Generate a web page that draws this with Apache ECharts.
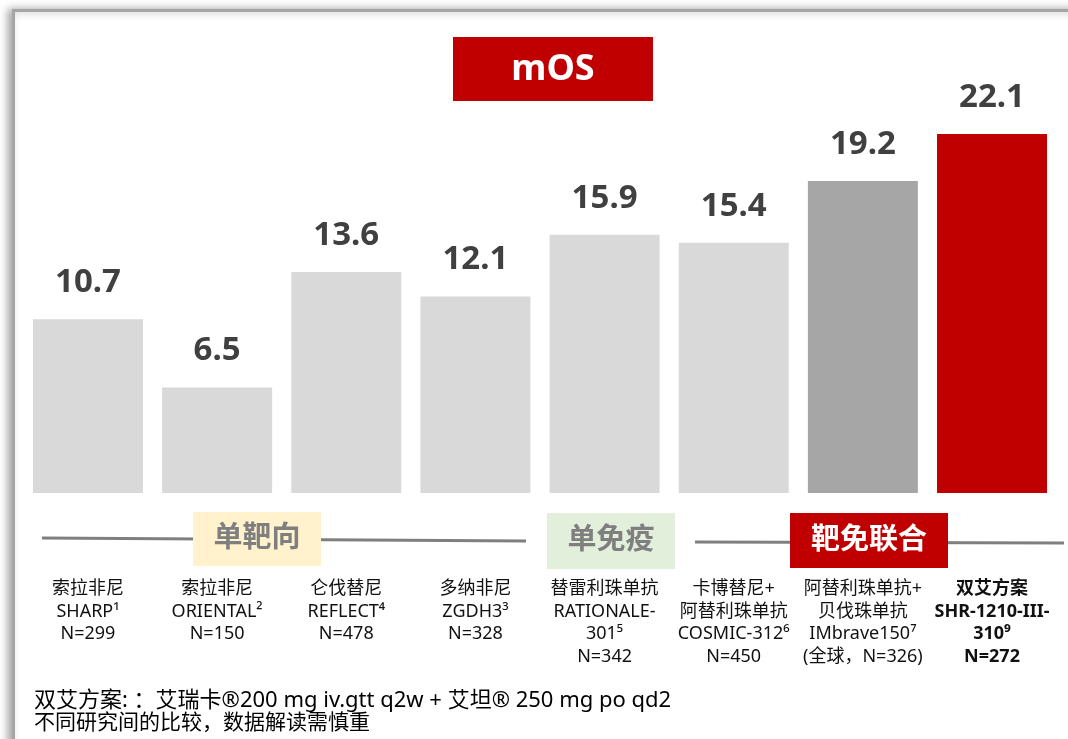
<!DOCTYPE html>
<html>
<head>
<meta charset="utf-8">
<script src="https://cdn.jsdelivr.net/npm/echarts@6/dist/echarts.min.js"></script>
<style>
  html, body { margin: 0; padding: 0; background: #fff; }
  #main { width: 1068px; height: 739px; }
</style>
</head>
<body>
<div id="main"></div>
<script>
var chartDom = document.getElementById('main');
var myChart = echarts.init(chartDom);
var option;

// categories (trial names), superscripts are reference numbers
var categories = [
    '索拉非尼\nSHARP¹\nN=299',
    '索拉非尼\nORIENTAL²\nN=150',
    '仑伐替尼\nREFLECT⁴\nN=478',
    '多纳非尼\nZGDH3³\nN=328',
    '替雷利珠单抗\nRATIONALE-\n301⁵\nN=342',
    '卡博替尼+\n阿替利珠单抗\nCOSMIC-312⁶\nN=450',
    '阿替利珠单抗+\n贝伐珠单抗\nIMbrave150⁷\n(全球，N=326)',
    '双艾方案\nSHR-1210-III-\n310⁹\nN=272'
];
// median OS, months
var mosValues = [10.7, 6.5, 13.6, 12.1, 15.9, 15.4, 19.2, 22.1];
var barColors = ['#D9D9D9', '#D9D9D9', '#D9D9D9', '#D9D9D9', '#D9D9D9', '#D9D9D9', '#A6A6A6', '#C00000'];

var fontFam = "'Noto Sans', 'Noto Sans CJK SC', sans-serif";

var xData = categories.map(function (c, i) {
    if (i === categories.length - 1) {
        return { value: c, textStyle: { fontWeight: 'bold' } };
    }
    return c;
});

var barData = mosValues.map(function (v, i) {
    return { value: v, itemStyle: { color: barColors[i] } };
});

function groupBox(x, y, w, h, fill, text, textColor) {
    return {
        type: 'group',
        children: [{
            type: 'rect',
            shape: { x: x, y: y, width: w, height: h },
            style: { fill: fill }
        }, {
            type: 'text',
            x: x + w / 2,
            y: y + h / 2,
            style: {
                text: text,
                fill: textColor,
                font: 'bold 29px ' + fontFam,
                align: 'center',
                verticalAlign: 'middle'
            }
        }]
    };
}

option = {
    backgroundColor: '#fff',
    animation: false,
    textStyle: { fontFamily: fontFam },
    grid: {
        left: 23.4,
        right: 11.4,
        top: 103,
        bottom: 246
    },
    xAxis: {
        type: 'category',
        data: xData,
        axisLine: { show: false },
        axisTick: { show: false },
        axisLabel: {
            interval: 0,
            margin: 85,
            fontSize: 18,
            lineHeight: 22.5,
            color: '#111',
            fontFamily: fontFam
        }
    },
    yAxis: {
        type: 'value',
        min: 0,
        max: 24,
        show: false,
        splitLine: { show: false }
    },
    series: [{
        type: 'bar',
        data: barData,
        barWidth: 110,
        z: 5,
        label: {
            show: true,
            position: 'top',
            distance: 20,
            fontSize: 33,
            lineHeight: 33,
            fontWeight: 'bold',
            color: '#404040',
            fontFamily: fontFam
        }
    }],
    graphic: [
        {
            type: 'rect',
            z: -10,
            shape: { x: 13.5, y: 10.5, width: 1120, height: 800 },
            style: {
                fill: '#fff',
                stroke: '#A6A6A6',
                lineWidth: 3,
                shadowBlur: 8,
                shadowColor: 'rgba(0,0,0,0.35)',
                shadowOffsetX: -4,
                shadowOffsetY: 0
            }
        },
        // title box
        {
            type: 'rect',
            shape: { x: 453, y: 37, width: 200, height: 64 },
            style: { fill: '#C00000' }
        },
        {
            type: 'text',
            x: 553,
            y: 70,
            style: {
                text: 'mOS',
                fill: '#fff',
                font: 'bold 36px ' + fontFam,
                align: 'center',
                verticalAlign: 'middle'
            }
        },
        // group divider lines
        {
            type: 'line',
            shape: { x1: 42, y1: 538, x2: 526, y2: 541 },
            style: { stroke: '#7F7F7F', lineWidth: 3 }
        },
        {
            type: 'line',
            shape: { x1: 695, y1: 542, x2: 1064, y2: 543 },
            style: { stroke: '#7F7F7F', lineWidth: 3 }
        },
        groupBox(193, 512, 128, 54, '#FFF2CC', '单靶向', '#7F7F7F'),
        groupBox(547, 513, 128, 56, '#E2EFDA', '单免疫', '#7F7F7F'),
        groupBox(790, 513, 158, 55, '#C00000', '靶免联合', '#fff'),
        // footnote
        {
            type: 'text',
            x: 34,
            y: 701,
            style: {
                text: '双艾方案: ：艾瑞卡®200 mg iv.gtt q2w + 艾坦® 250 mg po qd2',
                fill: '#000',
                font: '22px ' + fontFam,
                verticalAlign: 'middle'
            }
        },
        {
            type: 'text',
            x: 34,
            y: 723,
            style: {
                text: '不同研究间的比较，数据解读需慎重',
                fill: '#000',
                font: '21px ' + fontFam,
                verticalAlign: 'middle'
            }
        }
    ]
};

option && myChart.setOption(option);
</script>
</body>
</html>
